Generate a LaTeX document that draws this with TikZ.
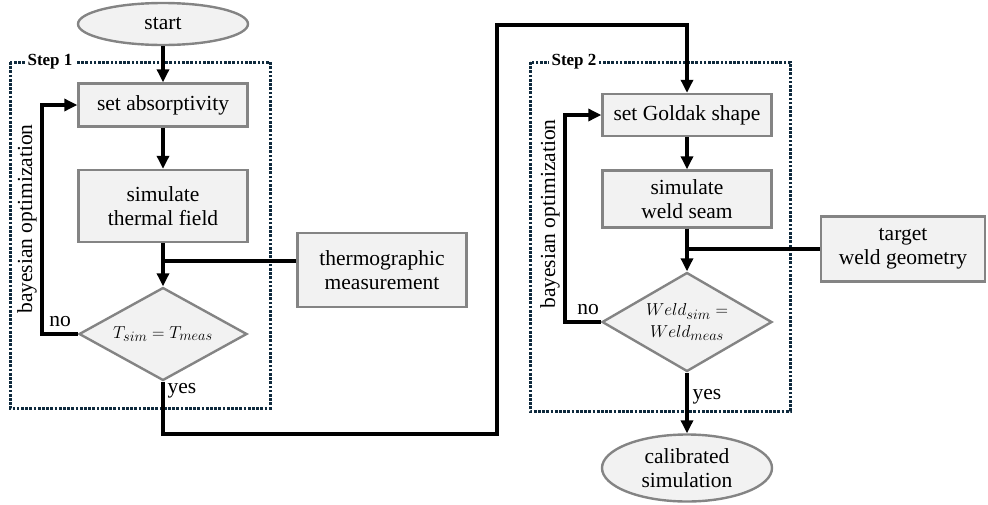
\documentclass[tikz,border=0pt]{standalone}
\usepackage{fontspec}
\setmainfont{Liberation Serif}
\usetikzlibrary{arrows.meta,shapes.geometric}
\definecolor{wfgray}{HTML}{848484}
\definecolor{wffill}{HTML}{F2F2F2}
\definecolor{wfnavy}{HTML}{0F2A3D}
\tikzset{
  wf text/.style={font=\fontsize{21.5}{24}\selectfont},
  wf box/.style={draw=wfgray, line width=2.4pt, fill=wffill, align=center,
    inner sep=0pt, minimum width=169pt},
  wf term/.style={ellipse, draw=wfgray, line width=2.4pt, fill=wffill, align=center,
    inner sep=0pt, minimum width=170pt},
  wf check/.style={diamond, draw=wfgray, line width=2.4pt, fill=wffill, align=center,
    inner sep=0pt, aspect=1.8, font=\fontsize{19}{22}\selectfont},
  wf line/.style={draw=black, line width=3.2pt},
  wf arrow/.style={wf line, -{Triangle[length=13pt,width=12pt]}},
  wf step/.style={draw=wfnavy, line width=3pt, dash pattern=on 2.7pt off 1.5pt},
  wf label/.style={font=\bfseries\fontsize{17}{20}\selectfont, fill=white, inner sep=3pt}
}

\begin{document}
\begin{tikzpicture}[wf text, x=1pt, y=-1pt]
  \useasboundingbox (0,0) rectangle (988,504);
  % dotted step frames
  \draw[wf step] (10,62) rectangle (270,408);
  \draw[wf step] (530,62) rectangle (790,411);
  \node[wf label] (step1) at (50,62) {Step 1};
  \node[wf label] (step2) at (574,62) {Step 2};

  % step 1
  \node[wf term, minimum height=42pt] (start) at (163,24) {start};
  \node[wf box, minimum height=43pt] (absorb) at (163,105) {set absorptivity};
  \node[wf box, minimum height=72pt] (thermal) at (163,206) {simulate\\thermal field};
  \node[wf box, minimum height=74pt] (thermo) at (382,270) {thermographic\\measurement};
  \node[wf check, minimum width=168pt, minimum height=93pt] (check1) at (163,334) {$T_{sim}=T_{meas}$};
  \node (no1) at (60,322) {no};
  \node (yes1) at (182,391) {yes};
  \node[rotate=90] (opt1) at (27,219) {bayesian optimization};

  % step 2
  \node[wf box, minimum height=42pt] (goldak) at (687,115) {set Goldak shape};
  \node[wf box, minimum height=57pt] (weld) at (687,199) {simulate\\weld seam};
  \node[wf box, minimum width=164pt, minimum height=65pt] (target) at (903,249) {target\\weld geometry};
  \node[wf check, aspect=1.9, minimum width=170pt, minimum height=99pt] (check2) at (687,322) {$Weld_{sim}=$\\$Weld_{meas}$};
  \node[wf term, minimum height=67pt] (finish) at (687,468) {calibrated\\simulation};
  \node (no2) at (588,310) {no};
  \node (yes2) at (707,397) {yes};
  \node[rotate=90] (opt2) at (550,214) {bayesian optimization};

  \coordinate (back1) at (42,0);
  \coordinate (back2) at (565,0);
  \coordinate (tap1) at (163,261);
  \coordinate (low) at (497,434);
  \coordinate (high) at (497,25);

  % connectors
  \draw[wf arrow] (start) -- (absorb);
  \draw[wf arrow] (absorb) -- (thermal);
  \draw[wf arrow] (thermal) -- (check1);
  \draw[wf line] (thermo.west |- tap1) -- (tap1);
  \draw[wf arrow] (check1.west) -- (check1.west -| back1) |- (absorb.west);
  \draw[wf arrow] (check1.south) |- (low) -- (high) -| (goldak.north);
  \draw[wf arrow] (goldak) -- (weld);
  \draw[wf arrow] (weld) -- (check2);
  \draw[wf line] (weld.south) |- (target.west);
  \draw[wf arrow] (check2.west) -- (check2.west -| back2) |- (goldak.west);
  \draw[wf arrow] (check2) -- (finish);
\end{tikzpicture}
\end{document}
